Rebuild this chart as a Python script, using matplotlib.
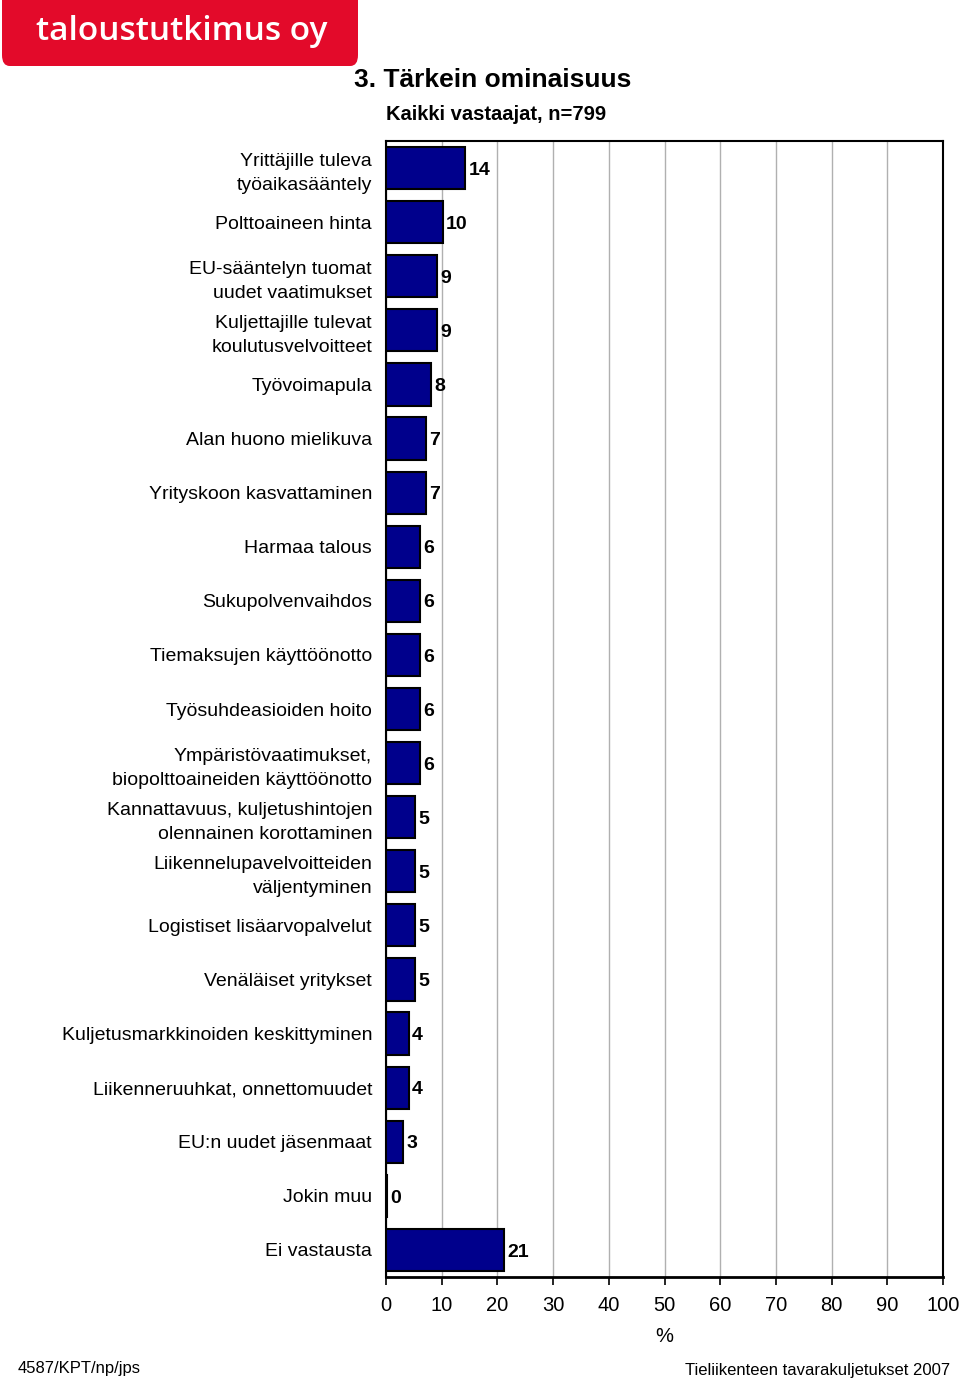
import matplotlib
matplotlib.use("Agg")
import matplotlib.pyplot as plt
from matplotlib.patches import FancyBboxPatch

plt.rcParams['font.family'] = ['Liberation Sans', 'DejaVu Sans']

categories = [
    "Yrittäjille tuleva\ntyöaikasääntely",
    "Polttoaineen hinta",
    "EU-sääntelyn tuomat\nuudet vaatimukset",
    "Kuljettajille tulevat\nkoulutusvelvoitteet",
    "Työvoimapula",
    "Alan huono mielikuva",
    "Yrityskoon kasvattaminen",
    "Harmaa talous",
    "Sukupolvenvaihdos",
    "Tiemaksujen käyttöönotto",
    "Työsuhdeasioiden hoito",
    "Ympäristövaatimukset,\nbiopolttoaineiden käyttöönotto",
    "Kannattavuus, kuljetushintojen\nolennainen korottaminen",
    "Liikennelupavelvoitteiden\nväljentyminen",
    "Logistiset lisäarvopalvelut",
    "Venäläiset yritykset",
    "Kuljetusmarkkinoiden keskittyminen",
    "Liikenneruuhkat, onnettomuudet",
    "EU:n uudet jäsenmaat",
    "Jokin muu",
    "Ei vastausta",
]
values = [14.2, 10.2, 9.2, 9.2, 8.1, 7.2, 7.2, 6.1, 6.1, 6.1, 6.1, 6.1,
          5.2, 5.2, 5.2, 5.2, 4.1, 4.1, 3.1, 0.2, 21.2]
labels = [14, 10, 9, 9, 8, 7, 7, 6, 6, 6, 6, 6, 5, 5, 5, 5, 4, 4, 3, 0, 21]
xticks = [0, 10, 20, 30, 40, 50, 60, 70, 80, 90, 100]

W, H = 960, 1382
fig = plt.figure(figsize=(W / 100, H / 100), dpi=100)

# axes placement in pixels
L, R, T, B = 386, 943, 141, 1277
ax = fig.add_axes([L / W, 1 - B / H, (R - L) / W, (B - T) / H])

n = len(categories)
ypos = list(range(n))
ax.barh(ypos, values, height=0.78, color="#00008C", edgecolor="black",
        linewidth=1.5, zorder=3)
for y, v, lab in zip(ypos, values, labels):
    ax.text(v + 0.6, y + 0.04, str(lab), va="center", ha="left", fontsize=14,
            fontweight="bold", zorder=4)

ax.set_ylim(n - 0.5, -0.5)
ax.set_xlim(0, 100)
ax.set_yticks(ypos)
ax.set_yticklabels(categories, fontsize=14, linespacing=1.55)
ax.tick_params(axis="y", length=0, pad=10)
ax.set_xticks(xticks)
ax.set_xticklabels([str(t) for t in xticks], fontsize=14.5)
ax.tick_params(axis="x", direction="out", length=6, width=1.2, pad=8)
ax.grid(axis="x", color="#b0b0b0", linewidth=1.0, zorder=0)
ax.set_xlabel("%", fontsize=14.5, labelpad=8)
for s in ax.spines.values():
    s.set_linewidth(1.5)
    s.set_color("black")
ax.spines["bottom"].set_linewidth(2)

# title & subtitle
fig.text(493 / W, 1 - 80 / H, "3. Tärkein ominaisuus", ha="center", va="center",
         fontsize=19, fontweight="bold")
fig.text(386 / W, 1 - 115 / H, "Kaikki vastaajat, n=799", ha="left", va="center",
         fontsize=14.5, fontweight="bold")

# logo
logo = FancyBboxPatch((2 / W, 1 - 66 / H), 356 / W, 80 / H,
                      boxstyle="round,pad=0,rounding_size=0.008",
                      transform=fig.transFigure, facecolor="#E30A2A",
                      edgecolor="none", zorder=5)
fig.patches.append(logo)
fig.text(182 / W, 1 - 32 / H, "taloustutkimus oy", ha="center", va="center",
         fontsize=24, color="white", family=["Open Sans", "DejaVu Sans"],
         fontweight="semibold", zorder=6)

# footer
fig.text(18 / W, 1 - 1369 / H, "4587/KPT/np/jps", ha="left", va="center",
         fontsize=12)
fig.text(950 / W, 1 - 1371 / H, "Tieliikenteen tavarakuljetukset 2007",
         ha="right", va="center", fontsize=12)

fig.savefig("out.png", dpi=100)
